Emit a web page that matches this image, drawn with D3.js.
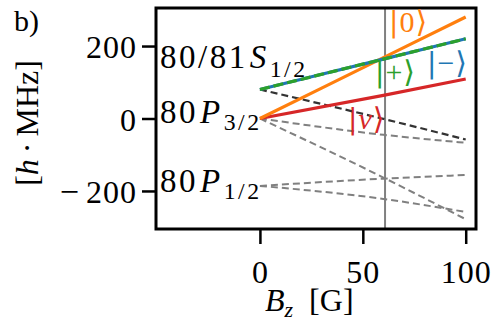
<!DOCTYPE html>
<html><head><meta charset="utf-8">
<script src="https://cdn.jsdelivr.net/npm/d3@7"></script>
<style>
html,body{margin:0;padding:0;background:#fff;}
text{font-family:"Liberation Serif","DejaVu Serif","DejaVu Sans",serif;fill:#000;}
</style></head>
<body><svg id="c" width="500" height="336"></svg>
<script>
// ---- data ----
const fieldB = [0, 60, 100];                 // Bz [G]
const ketZero = [0, 168, 280];               // |0>  (orange)
const ketPlusMinus = [80, 164, 220];         // |+>, |->  (green / blue)
const ketV = [0, 64, 109];                   // |v>  (red)
const sLevelDark = [80, -1, -58];            // dark dashed from S
const p32Upper = [0, -45, -67];              // grey dashed from P3/2
const p32Lower = [0, -163, -278];
const p12Upper = [-186, -166, -156];         // grey dashed from P1/2
const p12Lower = [-186, -222, -258];
const markerB = 60.8;
const xTicks = [0, 50, 100];
const yTicks = [-200, 0, 200];

const svg = d3.select("#c");
const L = 156, R = 476, T = 8, B = 229;
const x = d3.scaleLinear().domain([-50.5, 105]).range([L, R]);
const y = d3.scaleLinear().domain([-305, 305]).range([B, T]);
const line = d3.line().x((d,i)=>x(fieldB[i])).y(d=>y(d)).curve(d3.curveMonotoneX);

const g = svg.append("g");
// vertical marker
g.append("line").attr("x1", x(markerB)).attr("x2", x(markerB)).attr("y1", T).attr("y2", B)
  .attr("stroke", "#808080").attr("stroke-width", 2);

// grey dashed
[p32Upper, p32Lower, p12Upper, p12Lower].forEach(s => {
  g.append("path").attr("d", line(s)).attr("fill", "none")
    .attr("stroke", "#808080").attr("stroke-width", 2).attr("stroke-dasharray", "7,4");
});
g.append("path").attr("d", line(sLevelDark)).attr("fill", "none")
  .attr("stroke", "#333").attr("stroke-width", 2.2).attr("stroke-dasharray", "7,4");

// coloured lines
g.append("path").attr("d", line(ketV)).attr("fill", "none").attr("stroke", "#d62728").attr("stroke-width", 3.2);
g.append("path").attr("d", line(ketZero)).attr("fill", "none").attr("stroke", "#ff7f0e").attr("stroke-width", 3.2);
g.append("path").attr("d", line(ketPlusMinus)).attr("fill", "none").attr("stroke", "#1f77b4").attr("stroke-width", 3.2);
g.append("path").attr("d", line(ketPlusMinus)).attr("fill", "none").attr("stroke", "#2ca02c").attr("stroke-width", 3.2)
  .attr("stroke-dasharray", "10,4");

// frame
svg.append("rect").attr("x", L).attr("y", T).attr("width", R-L).attr("height", B-T)
  .attr("fill", "none").attr("stroke", "#000").attr("stroke-width", 3);

// axes
const xa = svg.append("g").attr("transform", `translate(0,${B})`)
  .call(d3.axisBottom(x).tickValues(xTicks).tickSize(15).tickPadding(11).tickFormat(d => String(d)));
const ya = svg.append("g").attr("transform", `translate(${L},0)`)
  .call(d3.axisLeft(y).tickValues(yTicks).tickSize(14).tickPadding(5).tickFormat(d => String(Math.abs(d))));
[xa, ya].forEach(a => {
  a.select(".domain").remove();
  a.selectAll(".tick line").attr("stroke", "#000").attr("stroke-width", 2.5);
  a.selectAll(".tick text").attr("font-size", 32).attr("fill", "#000")
    .style("font-family", "'Liberation Serif', serif").attr("letter-spacing", 1);
});
xa.selectAll(".tick text").attr("dy", null).attr("y", 54);
ya.selectAll(".tick text").attr("dy", "0.36em");
// minus sign drawn as its own glyph with a little extra room
ya.selectAll(".tick").filter(d => d < 0).each(function(d) {
  const t = d3.select(this).select("text");
  const num = t.text();
  t.text(null);
  t.append("tspan").attr("font-size", 34).text("\u2212");
  t.append("tspan").attr("dx", 6).text(num);
});

// level labels
function label(xp, yp, main, italic, sub, subShift, size) {
  const t = svg.append("text").attr("x", xp).attr("y", yp).attr("font-size", size).attr("letter-spacing", 2.5);
  t.append("tspan").text(main);
  t.append("tspan").attr("font-style", "italic").attr("dx", 2).text(italic);
  t.append("tspan").attr("font-size", size*0.72).attr("dy", subShift).attr("dx", 1).text(sub);
}
label(160, 68, "80/81", "S", "1/2", 9, 33);
label(160, 123, "80", "P", "3/2", 7, 33);
label(160, 192, "80", "P", "1/2", 7, 33);

// kets
function ket(xp, yp, inner, col, italic) {
  const t = svg.append("text").attr("x", xp).attr("y", yp).attr("font-size", 30).style("fill", col);
  t.append("tspan").style("font-family", "'DejaVu Sans'").attr("font-size", 28).text("|");
  t.append("tspan").attr("font-style", italic ? "italic" : "normal").attr("dx", 1).text(inner);
  t.append("tspan").style("font-family", "'DejaVu Sans'").attr("font-size", 30).attr("dx", 1).text("\u27E9");
}
ket(389, 32, "0", "#ff7f0e", false);
ket(375, 82, "+", "#2ca02c", false);
ket(427, 73, "\u2212", "#1f77b4", false);
ket(348, 129, "v", "#d62728", true);

// axis titles
const yt = svg.append("text").attr("transform", "translate(38,123) rotate(-90)")
  .attr("text-anchor", "middle").attr("font-size", 32);
yt.append("tspan").text("[");
yt.append("tspan").attr("font-style", "italic").text("h");
yt.append("tspan").attr("dx", 6).text("\u00B7");
yt.append("tspan").attr("dx", 6).text("MHz]");

const xt = svg.append("text").attr("x", 265).attr("y", 311).attr("font-size", 32);
xt.append("tspan").attr("font-style", "italic").text("B");
xt.append("tspan").attr("font-style", "italic").attr("font-size", 22).attr("dy", 6).text("z");
xt.append("tspan").attr("dy", -6).attr("dx", 16).text("[G]");

svg.append("text").attr("x", 14).attr("y", 31).attr("font-size", 30).text("b)");
</script></body></html>
